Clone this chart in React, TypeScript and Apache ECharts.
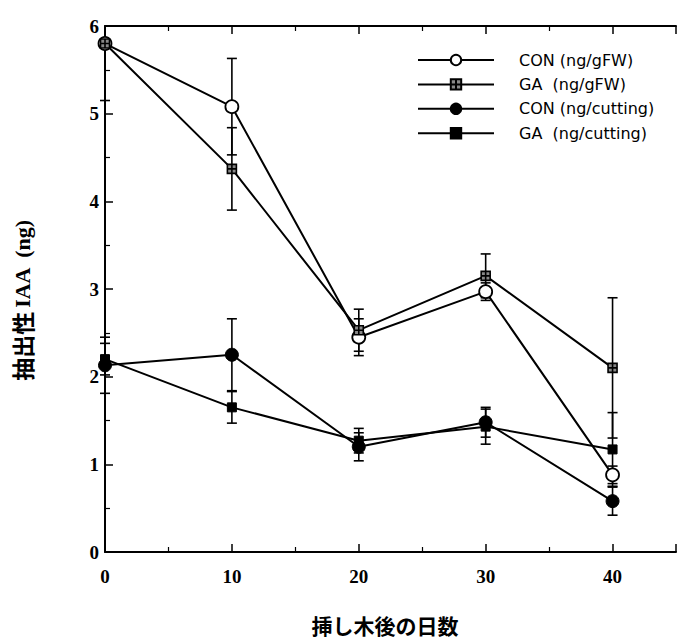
import React, { useEffect, useRef } from "react";
import * as echarts from "echarts";

const days = [0, 10, 20, 30, 40];
const seriesNames = ["CON (ng/gFW)", "GA  (ng/gFW)", "CON (ng/cutting)", "GA  (ng/cutting)"];
const conGFW = [5.8, 5.08, 2.45, 2.97, 0.88];
const conGFWErr = [0, 0.55, 0.21, 0.1, 0.1];
const gaGFW = [5.8, 4.37, 2.53, 3.15, 2.1];
const gaGFWErr = [0.65, 0.47, 0.24, 0.25, 0.8];
const conCut = [2.13, 2.25, 1.2, 1.48, 0.58];
const conCutErr = [0.32, 0.41, 0.16, 0.17, 0.16];
const gaCut = [2.2, 1.65, 1.27, 1.43, 1.17];
const gaCutErr = [0.18, 0.18, 0.14, 0.2, 0.42];
const xTicks = [0, 10, 20, 30, 40];
const yTicks = [0, 1, 2, 3, 4, 5, 6];

const crossSquare = "path://M0,0H10V10H0Z M5,0V10 M0,5H10";

export default function App() {
  const ref = useRef<HTMLDivElement>(null);
  useEffect(() => {
    if (!ref.current) return;
    const chart = echarts.init(ref.current, null, { renderer: "svg" });
    const YMAX = 6;
    const errData = (vals: number[], errs: number[]) =>
      days.map((d, i) => [d, vals[i] - errs[i], Math.min(YMAX, vals[i] + errs[i]), vals[i] + errs[i]]);
    const errSeries = (vals: number[], errs: number[]) => ({
      type: "custom",
      z: 1,
      silent: true,
      data: errData(vals, errs).filter((r) => r[1] !== r[2]),
      renderItem: (params: any, api: any) => {
        const x = api.value(0);
        const lo = api.coord([x, api.value(1)]);
        const hi = api.coord([x, api.value(2)]);
        const unclipped = api.value(3) <= YMAX;
        const w = 5;
        const st = { stroke: "#000", lineWidth: 1.6 };
        const children: any[] = [
          { type: "line", shape: { x1: lo[0], y1: lo[1], x2: hi[0], y2: hi[1] }, style: st },
          { type: "line", shape: { x1: lo[0] - w, y1: lo[1], x2: lo[0] + w, y2: lo[1] }, style: st },
        ];
        if (unclipped) {
          children.push({ type: "line", shape: { x1: hi[0] - w, y1: hi[1], x2: hi[0] + w, y2: hi[1] }, style: st });
        }
        return { type: "group", children };
      },
    });
    const lineSeries = (name: string, vals: number[], symbol: string, size: number, fill: string, bw: number) => ({
      name,
      type: "line",
      z: 3,
      data: days.map((d, i) => [d, vals[i]]),
      symbol,
      symbolSize: size,
      showAllSymbol: true,
      lineStyle: { color: "#000", width: 2 },
      itemStyle: { color: fill, borderColor: "#000", borderWidth: bw, opacity: 1 },
    });
    const labelFont = { fontFamily: "Liberation Serif", fontWeight: "bold" as const, fontSize: 19, color: "#000" };
    chart.setOption({
      animation: false,
      backgroundColor: "#fff",
      grid: { left: 105, top: 26, width: 579, height: 526, containLabel: false },
      legend: {
        orient: "vertical",
        left: 417,
        top: 52,
        padding: 0,
        itemWidth: 76,
        itemHeight: 13,
        itemGap: 8.4,
        data: seriesNames,
        textStyle: { fontFamily: "DejaVu Sans", fontSize: 16, color: "#000", padding: [0, 0, 0, 20] },
        selectedMode: false,
      },
      xAxis: [
        {
          type: "value",
          min: 0,
          max: 45,
          interval: 10,
          axisLine: { show: true, lineStyle: { color: "#000", width: 2 } },
          axisTick: { show: true, inside: true, length: 8, lineStyle: { color: "#000", width: 1.5 } },
          minorTick: { show: true, splitNumber: 2, length: 5, lineStyle: { color: "#000", width: 1.2 } },
          splitLine: { show: false },
          axisLabel: {
            ...labelFont,
            margin: 15,
            formatter: (v: number) => (xTicks.includes(v) ? String(v) : ""),
          },
        },
        {
          type: "value",
          position: "top",
          min: 0,
          max: 45,
          interval: 10,
          axisLine: { show: true, onZero: false, lineStyle: { color: "#000", width: 2 } },
          axisTick: { show: true, inside: true, length: 8, lineStyle: { color: "#000", width: 1.5 } },
          minorTick: { show: true, splitNumber: 2, length: 5, lineStyle: { color: "#000", width: 1.2 } },
          splitLine: { show: false },
          axisLabel: { show: false },
        },
      ],
      yAxis: {
        type: "value",
        min: 0,
        max: 6,
        interval: 1,
        axisLine: { show: true, lineStyle: { color: "#000", width: 2 } },
        axisTick: { show: true, inside: true, length: 8, lineStyle: { color: "#000", width: 1.5 } },
        minorTick: { show: true, splitNumber: 2, length: 5, lineStyle: { color: "#000", width: 1.2 } },
        splitLine: { show: false },
        axisLabel: {
          ...labelFont,
          margin: 6,
          formatter: (v: number) => (yTicks.includes(v) ? String(v) : ""),
        },
      },
      graphic: [
        {
          type: "text",
          x: 22,
          y: 300,
          rotation: Math.PI / 2,
          style: {
            text: "{a|抽出性} {b|IAA  (ng)}",
            align: "center",
            verticalAlign: "middle",
            fill: "#000",
            rich: {
              a: { fontFamily: "Noto Sans CJK JP", fontWeight: "bold", fontSize: 23, fill: "#000" },
              b: { fontFamily: "Liberation Serif", fontWeight: "bold", fontSize: 22, fill: "#000" },
            },
          },
        },
        {
          type: "text",
          x: 385,
          y: 625,
          style: {
            text: "挿し木後の日数",
            align: "center",
            verticalAlign: "middle",
            fill: "#000",
            fontFamily: "Noto Sans CJK JP",
            fontWeight: "bold",
            fontSize: 21,
          },
        },
      ],
      series: [
        errSeries(conGFW, conGFWErr),
        errSeries(gaGFW, gaGFWErr),
        errSeries(conCut, conCutErr),
        errSeries(gaCut, gaCutErr),
        lineSeries(seriesNames[0], conGFW, "circle", 13, "#fff", 1.8),
        lineSeries(seriesNames[1], gaGFW, crossSquare, 9, "#888", 1.6),
        lineSeries(seriesNames[2], conCut, "circle", 13, "#000", 1),
        lineSeries(seriesNames[3], gaCut, "rect", 9, "#000", 1),
      ],
    });
    return () => chart.dispose();
  }, []);
  return (
    <div
      ref={ref}
      style={{ position: "absolute", left: 0, top: 0, width: 679, height: 639 }}
    />
  );
}
